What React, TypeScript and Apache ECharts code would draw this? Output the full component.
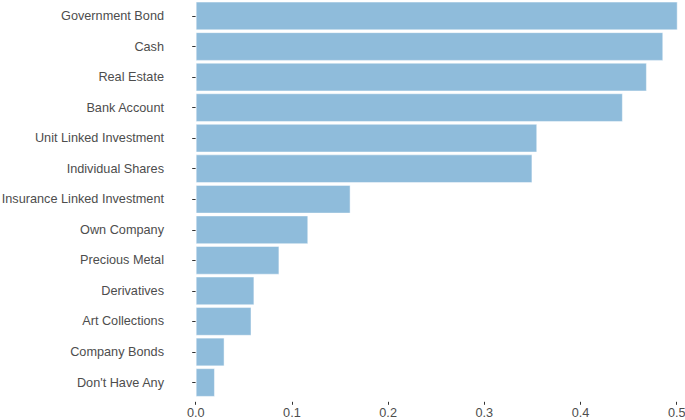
import React, { useEffect, useRef } from "react";
import * as echarts from "echarts";

const categories = [
  "Government Bond",
  "Cash",
  "Real Estate",
  "Bank Account",
  "Unit Linked Investment",
  "Individual Shares",
  "Insurance Linked Investment",
  "Own Company",
  "Precious Metal",
  "Derivatives",
  "Art Collections",
  "Company Bonds",
  "Don't Have Any",
];

const values = [
  0.501, 0.486, 0.469, 0.444, 0.355, 0.35, 0.161, 0.117, 0.087, 0.061, 0.058, 0.03, 0.02,
];

const xTicks = [0, 0.1, 0.2, 0.3, 0.4, 0.5];

export default function App() {
  const ref = useRef<HTMLDivElement>(null);

  useEffect(() => {
    if (!ref.current) return;
    const chart = echarts.init(ref.current, null, { renderer: "svg" });
    const font = "Liberation Sans, Arial, sans-serif";
    chart.setOption({
      animation: false,
      backgroundColor: "#ffffff",
      grid: {
        left: 195.7,
        right: 0,
        top: 0.7,
        bottom: 22.2,
        containLabel: false,
        outerBoundsMode: "none",
      },
      xAxis: {
        type: "value",
        min: 0,
        max: 0.5086,
        offset: 4,
        axisLine: { show: false },
        splitLine: { show: false },
        axisTick: {
          show: true,
          length: 3,
          lineStyle: { color: "#333333", width: 1 },
          customValues: xTicks,
        },
        axisLabel: {
          show: true,
          margin: 5,
          color: "#4d4d4d",
          fontSize: 12.7,
          fontFamily: font,
          customValues: xTicks,
          formatter: (v: number) => v.toFixed(1),
        },
      },
      yAxis: {
        type: "category",
        data: categories,
        inverse: true,
        offset: 24.7,
        axisLine: { show: false },
        splitLine: { show: false },
        axisTick: {
          show: true,
          length: 3.5,
          alignWithLabel: true,
          lineStyle: { color: "#333333", width: 1 },
        },
        axisLabel: {
          margin: 7,
          color: "#4d4d4d",
          fontSize: 12.7,
          fontFamily: font,
        },
      },
      series: [
        {
          type: "bar",
          data: values,
          barCategoryGap: "6%",
          clip: false,
          itemStyle: {
            color: "#8fbcdb",
            borderColor: "rgba(255,255,255,0.45)",
            borderWidth: 1,
          },
        },
      ],
    });
    return () => chart.dispose();
  }, []);

  return (
    <div
      ref={ref}
      style={{ position: "fixed", left: 0, top: 0, width: 685, height: 420 }}
    />
  );
}
